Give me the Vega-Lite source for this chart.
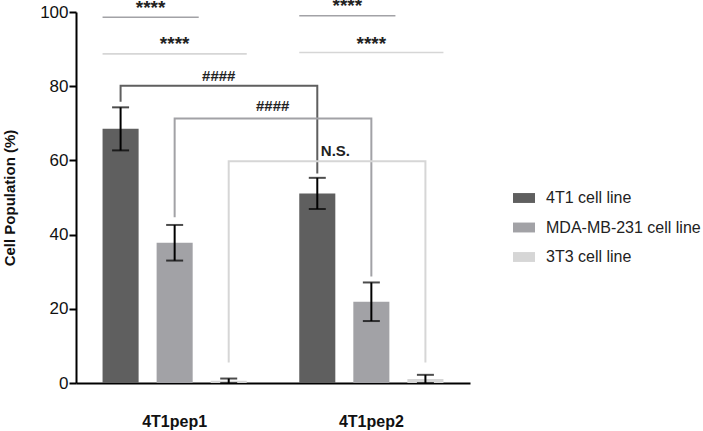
{
  "$schema": "https://vega.github.io/schema/vega-lite/v6.json",
  "width": 394,
  "height": 371,
  "autosize": {"type": "none"},
  "padding": {"left": 76, "top": 12, "right": 233, "bottom": 48},
  "background": "white",
  "config": {
    "view": {"stroke": null},
    "font": "Liberation Sans",
    "text": {"font": "Liberation Sans"}
  },
  "datasets": {
    "bars": [
      {"group": "4T1pep1", "series": "4T1 cell line", "mean": 68.5, "sd": 5.8},
      {"group": "4T1pep1", "series": "MDA-MB-231 cell line", "mean": 37.8, "sd": 4.8},
      {"group": "4T1pep1", "series": "3T3 cell line", "mean": 0.6, "sd": 0.6},
      {"group": "4T1pep2", "series": "4T1 cell line", "mean": 51.1, "sd": 4.2},
      {"group": "4T1pep2", "series": "MDA-MB-231 cell line", "mean": 21.9, "sd": 5.2},
      {"group": "4T1pep2", "series": "3T3 cell line", "mean": 1.1, "sd": 1.1}
    ],
    "brackets": [
      {"series": "4T1 cell line", "group": "4T1pep1", "level": 75.8, "seq": 1},
      {"series": "4T1 cell line", "group": "4T1pep1", "level": 80.1, "seq": 2},
      {"series": "4T1 cell line", "group": "4T1pep2", "level": 80.1, "seq": 3},
      {"series": "4T1 cell line", "group": "4T1pep2", "level": 56.5, "seq": 4},
      {"series": "MDA-MB-231 cell line", "group": "4T1pep1", "level": 44.7, "seq": 1},
      {"series": "MDA-MB-231 cell line", "group": "4T1pep1", "level": 71.3, "seq": 2},
      {"series": "MDA-MB-231 cell line", "group": "4T1pep2", "level": 71.3, "seq": 3},
      {"series": "MDA-MB-231 cell line", "group": "4T1pep2", "level": 28.7, "seq": 4},
      {"series": "3T3 cell line", "group": "4T1pep1", "level": 5.5, "seq": 1},
      {"series": "3T3 cell line", "group": "4T1pep1", "level": 59.8, "seq": 2},
      {"series": "3T3 cell line", "group": "4T1pep2", "level": 59.8, "seq": 3},
      {"series": "3T3 cell line", "group": "4T1pep2", "level": 5.5, "seq": 4}
    ],
    "topAll": [
      {"group": "4T1pep1", "series": "3T3 cell line", "level": 88.7, "label": "****", "labelLevel": 89.7},
      {"group": "4T1pep2", "series": "3T3 cell line", "level": 89.1, "label": "****", "labelLevel": 89.8}
    ],
    "topPair": [
      {"group": "4T1pep1", "series": "MDA-MB-231 cell line", "level": 98.6, "label": "****", "labelLevel": 99.5},
      {"group": "4T1pep2", "series": "MDA-MB-231 cell line", "level": 99.0, "label": "****", "labelLevel": 99.9}
    ]
  },
  "encoding": {
    "x": {
      "field": "group", "type": "nominal",
      "scale": {"domain": ["4T1pep1", "4T1pep2"], "paddingInner": 0.267, "paddingOuter": 0.135},
      "axis": {
        "title": null, "labelAngle": 0, "ticks": false,
        "domainColor": "black", "domainWidth": 2,
        "labelFont": "Liberation Sans", "labelFontWeight": "bold", "labelFontSize": 16,
        "labelColor": "#111", "labelPadding": 30
      }
    }
  },
  "layer": [
    {
      "data": {"name": "bars"},
      "mark": {"type": "bar"},
      "encoding": {
        "xOffset": {"field": "series", "type": "nominal",
          "scale": {"domain": ["4T1 cell line", "MDA-MB-231 cell line", "3T3 cell line"], "paddingInner": 0.333, "paddingOuter": 0}},
        "y": {
          "field": "mean", "type": "quantitative", "title": "Cell Population (%)",
          "scale": {"domain": [0, 100], "nice": false},
          "axis": {
            "title": "Cell Population (%)", "values": [0, 20, 40, 60, 80, 100],
            "grid": false, "domainColor": "black", "domainWidth": 2,
            "tickColor": "black", "tickWidth": 2, "tickSize": 7,
            "labelFont": "Liberation Sans", "labelFontSize": 17, "labelColor": "#111", "labelPadding": 1,
            "titleFont": "Liberation Sans", "titleFontWeight": "bold", "titleFontSize": 15, "titleColor": "#111",
            "titlePadding": 22
          }
        },
        "color": {
          "field": "series", "type": "nominal",
          "scale": {"domain": ["4T1 cell line", "MDA-MB-231 cell line", "3T3 cell line"], "range": ["#5f5f5f", "#a2a2a6", "#d6d6d6"]},
          "legend": {
            "title": null, "orient": "none", "legendX": 437, "legendY": 175, "padding": 0,
            "symbolType": "M-1,-0.45H1V0.45H-1Z", "symbolSize": 484, "symbolStrokeWidth": 0,
            "labelFont": "Liberation Sans", "labelFontSize": 16, "labelColor": "#222",
            "labelOffset": 11, "rowPadding": 10.5
          }
        }
      }
    },
    {
      "data": {"name": "bars"},
      "mark": {"type": "errorbar", "color": "black", "thickness": 2, "ticks": {"size": 17, "thickness": 2, "color": "black"}},
      "encoding": {
        "xOffset": {"field": "series", "type": "nominal"},
        "y": {"field": "mean", "type": "quantitative", "title": "Cell Population (%)"},
        "yError": {"field": "sd"}
      }
    },
    {
      "data": {"name": "brackets"},
      "mark": {"type": "line", "strokeWidth": 2},
      "encoding": {
        "xOffset": {"field": "series", "type": "nominal"},
        "y": {"field": "level", "type": "quantitative", "title": "Cell Population (%)"},
        "order": {"field": "seq", "type": "quantitative"},
        "color": {"field": "series", "type": "nominal"}
      }
    },
    {
      "data": {"name": "topAll"},
      "mark": {"type": "rule", "strokeWidth": 1.6},
      "encoding": {
        "x": {"field": "group", "type": "nominal", "bandPosition": 0},
        "x2": {"field": "group", "bandPosition": 1},
        "y": {"field": "level", "type": "quantitative", "title": "Cell Population (%)"},
        "color": {"field": "series", "type": "nominal"}
      }
    },
    {
      "data": {"name": "topPair"},
      "mark": {"type": "rule", "strokeWidth": 1.6},
      "encoding": {
        "x": {"field": "group", "type": "nominal", "bandPosition": 0},
        "x2": {"field": "group", "bandPosition": 0.667},
        "y": {"field": "level", "type": "quantitative", "title": "Cell Population (%)"},
        "color": {"field": "series", "type": "nominal"}
      }
    },
    {
      "data": {"name": "topAll"},
      "mark": {"type": "text", "fontWeight": "bold", "fontSize": 19, "color": "#222", "baseline": "alphabetic"},
      "encoding": {
        "y": {"field": "labelLevel", "type": "quantitative", "title": "Cell Population (%)"},
        "text": {"field": "label"}
      }
    },
    {
      "data": {"name": "topPair"},
      "mark": {"type": "text", "fontWeight": "bold", "fontSize": 19, "color": "#222", "baseline": "alphabetic"},
      "encoding": {
        "x": {"field": "group", "type": "nominal", "bandPosition": 0.333},
        "y": {"field": "labelLevel", "type": "quantitative", "title": "Cell Population (%)"},
        "text": {"field": "label"}
      }
    },
    {
      "data": {"values": [{"group": "4T1pep1", "label": "####", "labelLevel": 82.8}]},
      "mark": {"type": "text", "fontWeight": "bold", "fontSize": 15, "color": "#222", "baseline": "middle"},
      "encoding": {
        "x": {"field": "group", "type": "nominal", "bandPosition": 0.806},
        "y": {"field": "labelLevel", "type": "quantitative", "title": "Cell Population (%)"},
        "text": {"field": "label"}
      }
    },
    {
      "data": {"values": [{"group": "4T1pep1", "label": "####", "labelLevel": 74.7}]},
      "mark": {"type": "text", "fontWeight": "bold", "fontSize": 15, "color": "#222", "baseline": "middle"},
      "encoding": {
        "x": {"field": "group", "type": "nominal", "bandPosition": 1.18},
        "y": {"field": "labelLevel", "type": "quantitative", "title": "Cell Population (%)"},
        "text": {"field": "label"}
      }
    },
    {
      "data": {"values": [{"group": "4T1pep1", "label": "N.S.", "labelLevel": 62.6}]},
      "mark": {"type": "text", "fontWeight": "bold", "fontSize": 15, "color": "#222", "baseline": "middle"},
      "encoding": {
        "x": {"field": "group", "type": "nominal", "bandPosition": 1.615},
        "y": {"field": "labelLevel", "type": "quantitative", "title": "Cell Population (%)"},
        "text": {"field": "label"}
      }
    }
  ]
}
